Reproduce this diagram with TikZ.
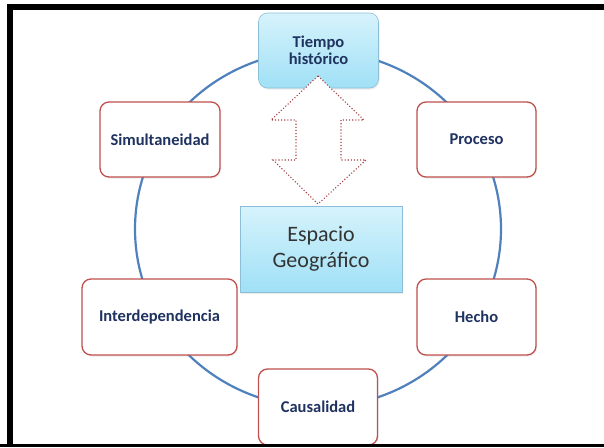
\documentclass[tikz,border=0pt]{standalone}
\usepackage{fontspec}
\setmainfont{Carlito}
\usetikzlibrary{shadows}
\definecolor{ringblue}{RGB}{79,129,189}
\definecolor{boxred}{RGB}{192,80,77}
\definecolor{navytext}{RGB}{31,50,96}
\definecolor{cyantop}{RGB}{214,243,252}
\definecolor{cyanbot}{RGB}{160,224,246}
\definecolor{cyanedge}{RGB}{140,190,215}
\definecolor{arrowred}{RGB}{165,65,65}
\tikzset{
  concept/.style={draw=boxred, line width=1.3pt, rounded corners=9pt, fill=white,
    inner sep=0pt, minimum height=75pt, text=navytext,
    font=\fontsize{16.5}{18}\selectfont\bfseries, align=center,
    drop shadow={shadow xshift=1pt, shadow yshift=-1.5pt, opacity=0.15}},
  timebox/.style={draw=cyanedge, line width=0.6pt, rounded corners=9pt,
    top color=cyantop, bottom color=cyanbot, inner sep=0pt,
    minimum width=120pt, minimum height=75pt, text=navytext,
    font=\fontsize{16.5}{17}\selectfont\bfseries, align=center,
    drop shadow={shadow xshift=1pt, shadow yshift=-1.5pt, opacity=0.15}},
  spacebox/.style={draw=cyanedge, line width=0.6pt,
    top color=cyantop, bottom color=cyanbot, inner sep=0pt,
    minimum width=162pt, minimum height=86pt, text=black!80,
    font=\fontsize{22}{26}\selectfont, align=center,
    drop shadow={shadow xshift=1pt, shadow yshift=-1.5pt, opacity=0.15}},
  ring/.style={draw=ringblue, line width=2.2pt},
  bigarrow/.style={draw=arrowred, line width=1.1pt, dotted, fill=white},
  frame/.style={fill=black}
}
\begin{document}
\begin{tikzpicture}[x=1pt,y=-1pt]
\useasboundingbox (0,0) rectangle (604,447);
\fill[white] (0,0) rectangle (604,447);
% frame
\fill[frame] (7,4) rectangle (604,10);
\fill[frame] (7,4) rectangle (13,447);
% ring
\draw[ring] (318,229) ellipse [x radius=183, y radius=178];
% nodes
\node[timebox] (tiempo) at (318.5,50.5) {Tiempo\\hist\'orico};
\node[concept, minimum width=120pt] (simul) at (160,139.5) {Simultaneidad};
\node[concept, minimum width=119pt] (proceso) at (476.5,139.5) {Proceso};
\node[concept, minimum width=155pt, minimum height=76pt] (inter) at (159.5,317) {Interdependencia};
\node[concept, minimum width=119pt, minimum height=76pt] (hecho) at (476.5,317) {Hecho};
\node[concept, minimum width=119pt, minimum height=76pt] (causa) at (318,407) {Causalidad};
\node[spacebox] (espacio) at (321,249) {Espacio\\Geogr\'afico};
% double arrow
\coordinate (atop) at (318,76);
\coordinate (abot) at (318,204);
\draw[bigarrow] (atop) -- (364,120) -- (341,120) -- (341,160) -- (366,160)
  -- (abot) -- (273,160) -- (296,160) -- (296,120) -- (271,120) -- cycle;
% bottom frame line
\fill[frame] (0,444) rectangle (604,447);
\end{tikzpicture}
\end{document}
